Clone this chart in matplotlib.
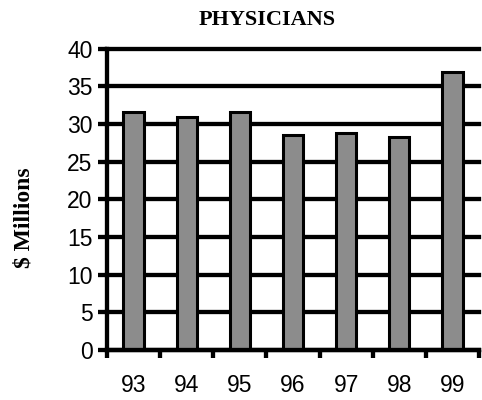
import matplotlib
matplotlib.use("Agg")
import matplotlib.pyplot as plt

years = ["93", "94", "95", "96", "97", "98", "99"]
spending = [31.6, 30.9, 31.6, 28.5, 28.8, 28.2, 36.9]
y_ticks = [0, 5, 10, 15, 20, 25, 30, 35, 40]

fig = plt.figure(figsize=(4.82, 4.0), dpi=100)
ax = fig.add_axes([107 / 482, 50 / 400, 372 / 482, 301.5 / 400])

x = range(len(years))
ax.bar(x, spending, width=0.38, color="#8c8c8c", edgecolor="black",
       linewidth=2.2, zorder=3)

ax.set_xlim(-0.5, len(years) - 0.5)
ax.set_ylim(0, 40)
ax.set_yticks(y_ticks)
ax.set_xticks([i - 0.5 for i in range(len(years) + 1)], minor=False)
ax.set_xticklabels([])
ax.set_xticks(list(x), minor=True)
ax.set_xticklabels(years, minor=True)

ax.yaxis.grid(True, color="black", linewidth=3.1, zorder=1)
ax.set_axisbelow(True)
for gl in ax.get_ygridlines():
    gl.set_clip_on(False)

for side in ("top", "right"):
    ax.spines[side].set_visible(False)
for side in ("left", "bottom"):
    ax.spines[side].set_linewidth(3.1)
    ax.spines[side].set_zorder(4)

ax.tick_params(axis="y", direction="out", length=6.5, width=3.1,
               labelsize=16.5, pad=4)
ax.tick_params(axis="x", which="major", direction="out", length=6,
               width=3.1)
ax.tick_params(axis="x", which="minor", length=0, labelsize=16.5, pad=17)
for lbl in ax.get_yticklabels() + ax.get_xticklabels(minor=True):
    lbl.set_family("Liberation Sans")

fig.text(267 / 482, 1 - 20 / 400, "PHYSICIANS", ha="center", va="center",
         family="Liberation Serif", fontweight="bold", fontsize=16)
fig.text(24 / 482, 1 - 218 / 400, "$ Millions", ha="center", va="center",
         rotation=90, family="Liberation Serif", fontweight="bold",
         fontsize=17)

fig.savefig("out.png", dpi=100)
